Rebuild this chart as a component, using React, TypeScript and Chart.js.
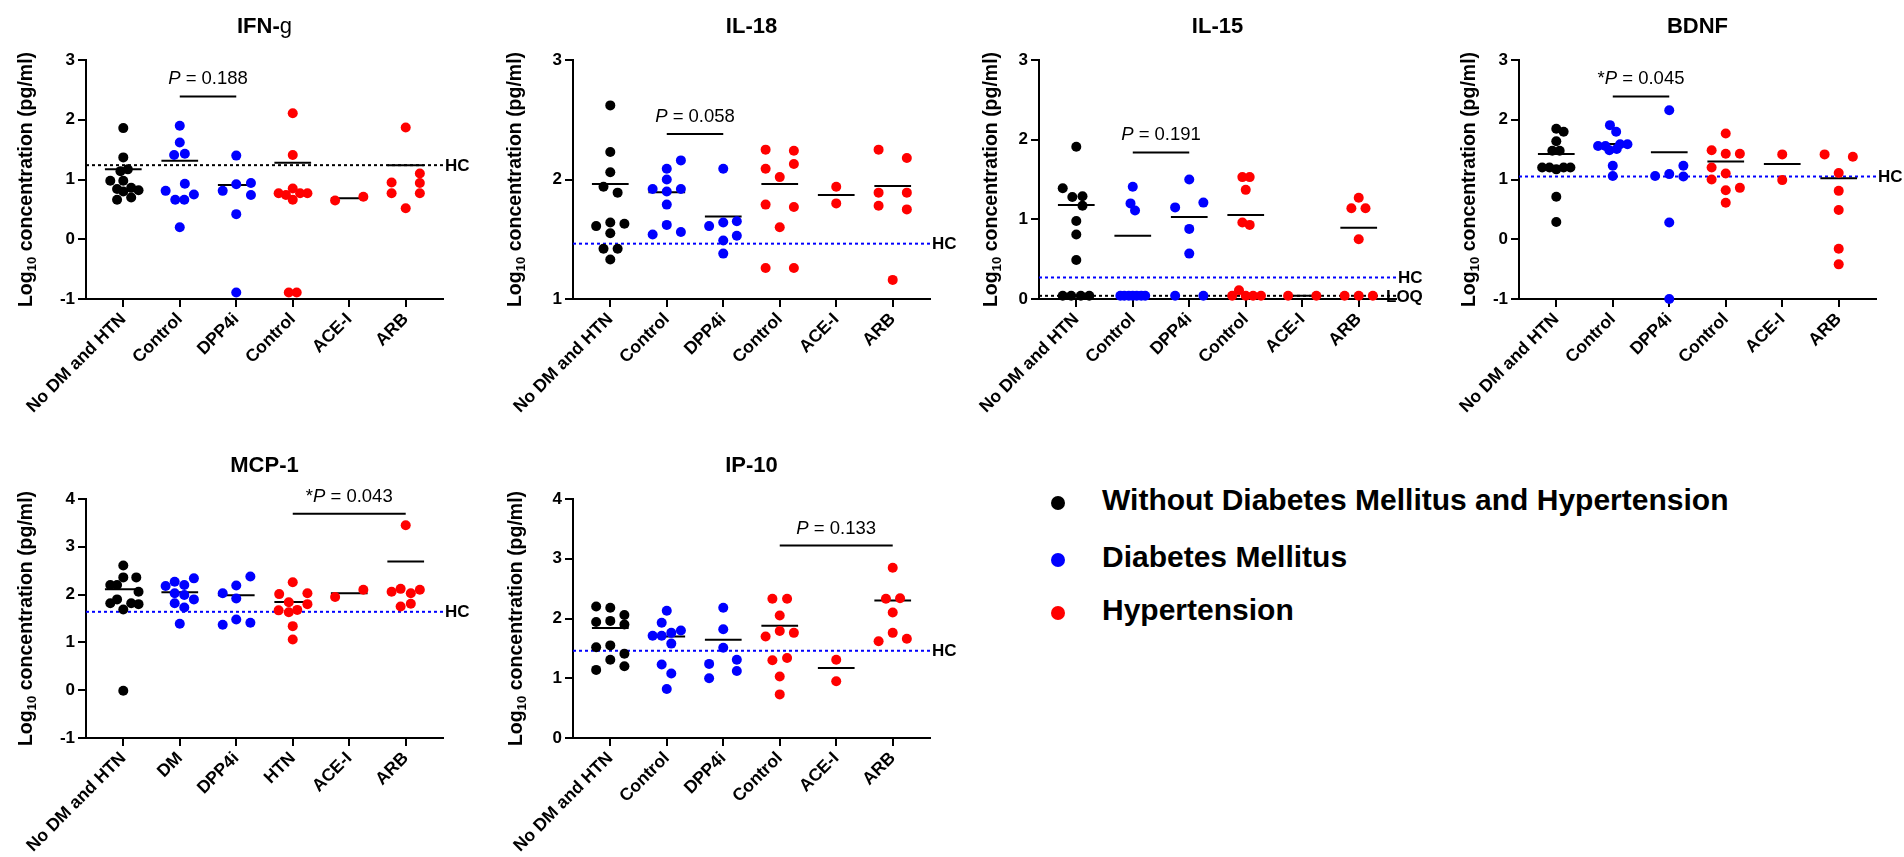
import React, { useEffect, useRef } from "react";
import { Chart, registerables } from "chart.js";

Chart.register(...registerables);

const FONT = "'Liberation Sans', Arial, Helvetica, sans-serif";
const BLACK = "#000000";
const BLUE = "#0000FF";
const RED = "#FF0000";

// ---------- DATA ----------
const groupColors = [BLACK, BLUE, BLUE, RED, RED, RED];
const categoriesStd = ["No DM and HTN", "Control", "DPP4i", "Control", "ACE-I", "ARB"];
const categoriesMcp = ["No DM and HTN", "DM", "DPP4i", "HTN", "ACE-I", "ARB"];
const legendLabels = ["Without Diabetes Mellitus and Hypertension", "Diabetes Mellitus", "Hypertension"];
const legendColors = [BLACK, BLUE, RED];

// IFN-g
const ifngValues = [
  [1.86, 1.37, 1.14, 1.17, 0.98, 0.98, 0.84, 0.86, 0.82, 0.8, 0.66, 0.7],
  [1.9, 1.62, 1.41, 1.43, 0.93, 0.81, 0.75, 0.66, 0.66, 0.2],
  [1.4, 0.81, 0.92, 0.94, 0.74, 0.42, -0.89],
  [2.11, 1.41, 0.85, 0.77, 0.74, 0.66, 0.77, 0.77, -0.89, -0.89],
  [0.65, 0.71],
  [1.87, 1.1, 0.95, 0.94, 0.77, 0.77, 0.52],
];
const ifngJitter = [
  [0, 0, -0.05, 0.08, -0.23, 0, -0.11, 0.14, 0.27, 0, -0.11, 0.14],
  [0, 0, -0.1, 0.09, 0.09, -0.25, 0.25, -0.08, 0.08, 0],
  [0, -0.24, 0, 0.26, 0.26, 0, 0],
  [0, 0, 0, -0.25, -0.12, 0, 0.13, 0.26, -0.07, 0.07],
  [-0.25, 0.25],
  [0, 0.25, -0.25, 0.25, -0.25, 0.25, 0],
];
const ifngMeans = [1.17, 1.315, 0.91, 1.28, 0.685, 1.24];
const ifngHC = 1.24;

// IL-18
const il18Values = [
  [2.62, 2.23, 2.06, 1.94, 1.89, 1.61, 1.64, 1.63, 1.55, 1.42, 1.42, 1.33],
  [2.16, 2.09, 2.0, 1.92, 1.9, 1.92, 1.79, 1.62, 1.54, 1.56],
  [2.09, 1.61, 1.64, 1.65, 1.49, 1.53, 1.38],
  [2.25, 2.24, 2.09, 2.13, 2.02, 1.79, 1.77, 1.6, 1.26, 1.26],
  [1.94, 1.8],
  [2.25, 2.18, 1.89, 1.89, 1.78, 1.75, 1.16],
];
const il18Jitter = [
  [0, 0, 0, -0.12, 0.13, -0.25, 0, 0.25, 0, -0.12, 0.13, 0],
  [0.25, 0, 0, -0.25, 0, 0.25, 0, 0, -0.25, 0.25],
  [0, -0.25, 0, 0.24, 0, 0.24, 0],
  [-0.25, 0.25, -0.25, 0.25, 0, -0.25, 0.25, 0, -0.25, 0.25],
  [0, 0],
  [-0.25, 0.25, -0.25, 0.25, -0.25, 0.25, 0],
];
const il18Means = [1.962, 1.893, 1.69, 1.962, 1.87, 1.946];
const il18HC = 1.463;

// IL-15
const il15Values = [
  [1.91, 1.39, 1.28, 1.29, 1.17, 0.98, 0.81, 0.49, 0.04, 0.04, 0.04, 0.04],
  [1.41, 1.2, 1.11, 0.04, 0.04, 0.04, 0.04, 0.04, 0.04, 0.04],
  [1.5, 1.15, 1.21, 0.88, 0.57, 0.04, 0.04],
  [1.53, 1.53, 1.37, 0.96, 0.93, 0.04, 0.11, 0.04, 0.04, 0.04],
  [0.04, 0.04],
  [1.27, 1.14, 1.14, 0.75, 0.04, 0.04, 0.04],
];
const il15Jitter = [
  [0, -0.24, -0.07, 0.11, 0.11, 0, 0, 0, -0.24, -0.09, 0.08, 0.23],
  [0, -0.04, 0.04, -0.22, -0.15, -0.07, 0, 0.07, 0.15, 0.22],
  [0, -0.25, 0.25, 0, 0, -0.25, 0.25],
  [-0.06, 0.07, 0, -0.06, 0.07, -0.24, -0.12, 0, 0.13, 0.27],
  [-0.25, 0.25],
  [0, -0.13, 0.12, 0, -0.25, 0, 0.25],
];
const il15Means = [1.18, 0.795, 1.03, 1.055, 0.04, 0.895];
const il15HC = 0.27;
const il15LOQ = 0.04;

// BDNF
const bdnfValues = [
  [1.85, 1.8, 1.64, 1.48, 1.48, 1.2, 1.2, 1.17, 1.2, 1.2, 0.71, 0.29],
  [1.91, 1.8, 1.56, 1.56, 1.49, 1.51, 1.59, 1.59, 1.23, 1.06],
  [2.16, 1.23, 1.06, 1.09, 1.05, 0.28, -1.0],
  [1.77, 1.49, 1.43, 1.43, 1.2, 1.1, 1.0, 0.86, 0.82, 0.61],
  [1.42, 0.99],
  [1.42, 1.38, 1.11, 0.81, 0.49, -0.16, -0.42],
];
const bdnfJitter = [
  [0, 0.13, 0, -0.07, 0.06, -0.25, -0.12, 0, 0.13, 0.25, 0, 0],
  [-0.05, 0.06, -0.26, -0.13, -0.06, 0.07, 0.13, 0.26, 0, 0],
  [0, 0.25, -0.25, 0, 0.25, 0, 0],
  [0, -0.25, 0, 0.25, -0.25, 0, -0.25, 0.25, 0, 0],
  [0, 0],
  [-0.25, 0.25, 0, 0, 0, 0, 0],
];
const bdnfMeans = [1.427, 1.594, 1.455, 1.3, 1.26, 1.02];
const bdnfHC = 1.05;

// MCP-1
const mcpValues = [
  [2.61, 2.36, 2.36, 2.2, 2.2, 2.06, 1.9, 1.82, 1.82, 1.8, 1.69, -0.01],
  [2.34, 2.27, 2.18, 2.2, 2.03, 1.99, 1.9, 1.82, 1.73, 1.39],
  [2.38, 2.19, 2.03, 1.92, 1.48, 1.37, 1.41],
  [2.26, 2.01, 2.03, 1.84, 1.8, 1.67, 1.63, 1.68, 1.34, 1.06],
  [1.95, 2.1],
  [3.45, 2.06, 2.12, 2.03, 2.1, 1.75, 1.81],
];
const mcpJitter = [
  [0, 0, 0.23, -0.23, -0.11, 0.27, -0.11, -0.23, 0.14, 0.27, 0, 0],
  [0.25, -0.09, -0.25, 0.08, -0.09, 0.08, 0.25, -0.09, 0.08, 0],
  [0.25, 0, -0.24, 0, 0, -0.24, 0.25],
  [0, -0.24, 0.26, -0.07, 0.26, -0.25, -0.07, 0.08, 0, 0],
  [-0.25, 0.25],
  [0, -0.25, -0.09, 0.09, 0.25, -0.09, 0.09],
];
const mcpMeans = [2.11, 2.05, 1.985, 1.845, 2.03, 2.69];
const mcpHC = 1.64;

// IP-10
const ip10Values = [
  [2.2, 2.18, 2.06, 1.94, 1.96, 1.9, 1.52, 1.55, 1.41, 1.31, 1.14, 1.2],
  [2.13, 1.93, 1.71, 1.71, 1.76, 1.8, 1.58, 1.23, 1.08, 0.82],
  [2.18, 1.82, 1.51, 1.31, 1.24, 1.12, 1.0],
  [2.33, 2.33, 2.05, 1.79, 1.76, 1.7, 1.3, 1.34, 1.03, 0.73],
  [1.31, 0.95],
  [2.85, 2.33, 2.34, 2.1, 1.76, 1.62, 1.66],
];
const ip10Jitter = [
  [-0.25, 0, 0.25, -0.25, 0, 0.25, -0.25, 0, 0.25, 0, -0.25, 0.25],
  [0, -0.09, -0.25, -0.09, 0.08, 0.25, 0.08, -0.09, 0.08, 0],
  [0, 0, 0, 0.24, -0.25, 0.24, -0.25],
  [-0.13, 0.13, 0, 0, 0.25, -0.25, -0.13, 0.13, 0, 0],
  [0, 0],
  [0, -0.12, 0.13, 0, 0, -0.25, 0.25],
];
const ip10Means = [1.84, 1.7, 1.645, 1.88, 1.17, 2.3];
const ip10HC = 1.46;

// P-value brackets: [fromGroup, toGroup, yValue]
const ifngBracket = [1, 2, 2.39];
const il18Bracket = [1, 2, 2.38];
const il15Bracket = [1, 2, 1.84];
const bdnfBracket = [1, 2, 2.39];
const mcpBracket = [3, 5, 3.69];
const ip10Bracket = [3, 5, 3.22];

// ---------- LAYOUT / STYLE ----------
const X_MIN = -0.66;
const X_MAX = 5.66;
const MEAN_HALF = 0.325;
const TITLE_SIZE = 22;
const YTITLE_SIZE = 19.5;
const XLABEL_SIZE = 17.5;
const YTICK_SIZE = 17;
const REF_SIZE = 17;
const P_SIZE = 18.5;
const POINT_R = 5;

type Seg = { text: string; font: string };

const bold = (s: number) => `bold ${s}px ${FONT}`;
const reg = (s: number) => `${s}px ${FONT}`;
const ital = (s: number) => `italic ${s}px ${FONT}`;

function pSegs(star: boolean, val: string): Seg[] {
  const out: Seg[] = [];
  if (star) out.push({ text: "*", font: reg(P_SIZE) });
  out.push({ text: "P", font: ital(P_SIZE) });
  out.push({ text: " = " + val, font: reg(P_SIZE) });
  return out;
}

const panels = [
  {
    title: [{ text: "IFN-", font: bold(TITLE_SIZE) }, { text: "g", font: reg(TITLE_SIZE) }],
    values: ifngValues, jitter: ifngJitter, means: ifngMeans, categories: categoriesStd,
    yMin: -1, yMax: 3,
    refs: [{ value: ifngHC, color: BLACK, label: "HC", inside: false }],
    bracket: ifngBracket, pText: pSegs(false, "0.188"),
    box: { left: 0, top: 0, w: 470, h: 430 }, area: { l: 86, t: 60, r: 443, b: 299 }, yTitleOff: 59,
  },
  {
    title: [{ text: "IL-18", font: bold(TITLE_SIZE) }],
    values: il18Values, jitter: il18Jitter, means: il18Means, categories: categoriesStd,
    yMin: 1, yMax: 3,
    refs: [{ value: il18HC, color: BLUE, label: "HC", inside: false }],
    bracket: il18Bracket, pText: pSegs(false, "0.058"),
    box: { left: 470, top: 0, w: 490, h: 430 }, area: { l: 573, t: 60, r: 930, b: 299 }, yTitleOff: 57,
  },
  {
    title: [{ text: "IL-15", font: bold(TITLE_SIZE) }],
    values: il15Values, jitter: il15Jitter, means: il15Means, categories: categoriesStd,
    yMin: 0, yMax: 3,
    refs: [
      { value: il15HC, color: BLUE, label: "HC", inside: false },
      { value: il15LOQ, color: BLACK, label: "LOQ", inside: true },
    ],
    bracket: il15Bracket, pText: pSegs(false, "0.191"),
    box: { left: 960, top: 0, w: 470, h: 430 }, area: { l: 1039, t: 60, r: 1396, b: 299 }, yTitleOff: 47,
  },
  {
    title: [{ text: "BDNF", font: bold(TITLE_SIZE) }],
    values: bdnfValues, jitter: bdnfJitter, means: bdnfMeans, categories: categoriesStd,
    yMin: -1, yMax: 3,
    refs: [{ value: bdnfHC, color: BLUE, label: "HC", inside: false }],
    bracket: bdnfBracket, pText: pSegs(true, "0.045"),
    box: { left: 1430, top: 0, w: 474, h: 430 }, area: { l: 1519, t: 60, r: 1876, b: 299 }, yTitleOff: 49,
  },
  {
    title: [{ text: "MCP-1", font: bold(TITLE_SIZE) }],
    values: mcpValues, jitter: mcpJitter, means: mcpMeans, categories: categoriesMcp,
    yMin: -1, yMax: 4,
    refs: [{ value: mcpHC, color: BLUE, label: "HC", inside: false }],
    bracket: mcpBracket, pText: pSegs(true, "0.043"),
    box: { left: 0, top: 430, w: 470, h: 427 }, area: { l: 86, t: 499, r: 443, b: 738 }, yTitleOff: 59,
  },
  {
    title: [{ text: "IP-10", font: bold(TITLE_SIZE) }],
    values: ip10Values, jitter: ip10Jitter, means: ip10Means, categories: categoriesStd,
    yMin: 0, yMax: 4,
    refs: [{ value: ip10HC, color: BLUE, label: "HC", inside: false }],
    bracket: ip10Bracket, pText: pSegs(false, "0.133"),
    box: { left: 470, top: 430, w: 490, h: 427 }, area: { l: 573, t: 499, r: 930, b: 738 }, yTitleOff: 56,
  },
];

function drawRich(ctx: CanvasRenderingContext2D, segs: Seg[], cx: number, y: number) {
  let total = 0;
  const widths = segs.map((s) => {
    ctx.font = s.font;
    const w = ctx.measureText(s.text).width;
    total += w;
    return w;
  });
  let x = cx - total / 2;
  segs.forEach((s, i) => {
    ctx.font = s.font;
    ctx.fillText(s.text, x, y);
    x += widths[i];
  });
}

function makeAnnotPlugin(cfg: any) {
  return {
    id: "annot",
    afterDraw(chart: any) {
      const ctx: CanvasRenderingContext2D = chart.ctx;
      const xs = chart.scales.x;
      const ys = chart.scales.y;
      const ca = chart.chartArea;
      ctx.save();
      ctx.fillStyle = "#000";
      ctx.textAlign = "left";
      ctx.textBaseline = "alphabetic";
      drawRich(ctx, cfg.title, (ca.left + ca.right) / 2, ca.top - 27);

      ctx.save();
      ctx.translate(ca.left - cfg.yTitleOff, (ca.top + ca.bottom) / 2);
      ctx.rotate(-Math.PI / 2);
      ctx.textBaseline = "middle";
      const parts = [
        { text: "Log", font: bold(YTITLE_SIZE), dy: 0 },
        { text: "10", font: bold(YTITLE_SIZE * 0.68), dy: 5 },
        { text: " concentration (pg/ml)", font: bold(YTITLE_SIZE), dy: 0 },
      ];
      let tot = 0;
      const ws = parts.map((p) => {
        ctx.font = p.font;
        const w = ctx.measureText(p.text).width;
        tot += w;
        return w;
      });
      let px = -tot / 2;
      parts.forEach((p, i) => {
        ctx.font = p.font;
        ctx.fillText(p.text, px, p.dy);
        px += ws[i];
      });
      ctx.restore();

      cfg.refs.forEach((r: any) => {
        ctx.font = bold(REF_SIZE);
        ctx.textBaseline = "middle";
        const y = ys.getPixelForValue(r.value);
        ctx.fillText(r.label, r.inside ? ca.right - 10 : ca.right + 2, y + 1);
      });

      const [g1, g2, yv] = cfg.bracket;
      const x1 = xs.getPixelForValue(g1);
      const x2 = xs.getPixelForValue(g2);
      const yb = ys.getPixelForValue(yv);
      ctx.strokeStyle = "#000";
      ctx.lineWidth = 2;
      ctx.beginPath();
      ctx.moveTo(x1, yb);
      ctx.lineTo(x2, yb);
      ctx.stroke();
      ctx.textBaseline = "alphabetic";
      drawRich(ctx, cfg.pText, (x1 + x2) / 2, yb - 12);
      ctx.restore();
    },
  };
}

function Panel({ cfg }: { cfg: any }) {
  const ref = useRef<HTMLCanvasElement>(null);
  useEffect(() => {
    const canvas = ref.current;
    if (!canvas) return;
    const { box, area } = cfg;
    const datasets: any[] = [];
    cfg.values.forEach((vals: number[], g: number) => {
      datasets.push({
        type: "scatter",
        data: vals.map((v, i) => ({ x: g + cfg.jitter[g][i], y: v })),
        backgroundColor: groupColors[g],
        borderWidth: 0,
        pointRadius: POINT_R,
        pointHoverRadius: POINT_R,
        clip: false,
        order: 0,
      });
    });
    const meanData: any[] = [];
    cfg.means.forEach((m: number, g: number) => {
      meanData.push({ x: g - MEAN_HALF, y: m }, { x: g + MEAN_HALF, y: m }, { x: g + 0.5, y: null });
    });
    datasets.push({
      type: "line",
      data: meanData,
      borderColor: BLACK,
      borderWidth: 2,
      pointRadius: 0,
      spanGaps: false,
      fill: false,
      order: 1,
    });
    cfg.refs.forEach((r: any) => {
      datasets.push({
        type: "line",
        data: [
          { x: X_MIN, y: r.value },
          { x: X_MAX, y: r.value },
        ],
        borderColor: r.color,
        borderWidth: 2,
        borderDash: [3, 3],
        pointRadius: 0,
        fill: false,
        order: 2,
      });
    });

    const gridOpts = { drawOnChartArea: false, drawTicks: true, tickLength: 8, color: BLACK, lineWidth: 2 };
    const borderOpts = { display: true, color: BLACK, width: 2 };

    const chart = new Chart(canvas, {
      type: "scatter",
      data: { datasets },
      options: {
        responsive: false,
        animation: false,
        events: [],
        layout: {
          padding: { top: area.t - box.top, right: box.left + box.w - area.r, left: 0, bottom: 0 },
        },
        plugins: { legend: { display: false }, tooltip: { enabled: false }, title: { display: false } },
        scales: {
          x: {
            type: "linear",
            min: X_MIN,
            max: X_MAX,
            afterBuildTicks: (s: any) => {
              s.ticks = cfg.categories.map((_: string, i: number) => ({ value: i }));
            },
            afterFit: (s: any) => {
              s.height = box.top + box.h - area.b;
            },
            ticks: {
              autoSkip: false,
              minRotation: 45,
              maxRotation: 45,
              color: BLACK,
              padding: 2,
              font: { family: FONT, size: XLABEL_SIZE, weight: "bold" },
              callback: (v: any) => cfg.categories[Math.round(Number(v))] ?? "",
            },
            grid: gridOpts,
            border: borderOpts,
          },
          y: {
            type: "linear",
            min: cfg.yMin,
            max: cfg.yMax,
            afterFit: (s: any) => {
              s.width = area.l - box.left;
            },
            ticks: {
              stepSize: 1,
              color: BLACK,
              padding: 3,
              font: { family: FONT, size: YTICK_SIZE, weight: "bold" },
              callback: (v: any) => String(v),
            },
            grid: gridOpts,
            border: borderOpts,
          },
        },
      } as any,
      plugins: [makeAnnotPlugin(cfg)],
    });
    return () => chart.destroy();
  }, [cfg]);
  const { box } = cfg;
  return (
    <canvas
      ref={ref}
      width={box.w}
      height={box.h}
      style={{ position: "absolute", left: box.left, top: box.top, width: box.w, height: box.h }}
    />
  );
}

const legendRowsY = [503, 560, 613];

export default function App() {
  return (
    <div style={{ position: "absolute", left: 0, top: 0, width: 1904, height: 857, background: "#fff", overflow: "hidden" }}>
      {panels.map((p, i) => (
        <Panel key={i} cfg={p} />
      ))}
      {legendLabels.map((lab, i) => (
        <React.Fragment key={lab}>
          <div
            style={{
              position: "absolute",
              left: 1058 - 7,
              top: legendRowsY[i] - 7,
              width: 14,
              height: 14,
              borderRadius: "50%",
              background: legendColors[i],
            }}
          />
          <div
            style={{
              position: "absolute",
              left: 1102,
              top: legendRowsY[i] - 20,
              height: 40,
              lineHeight: "40px",
              whiteSpace: "nowrap",
              font: `bold 30px ${FONT}`,
              color: "#000",
            }}
          >
            {lab}
          </div>
        </React.Fragment>
      ))}
    </div>
  );
}
